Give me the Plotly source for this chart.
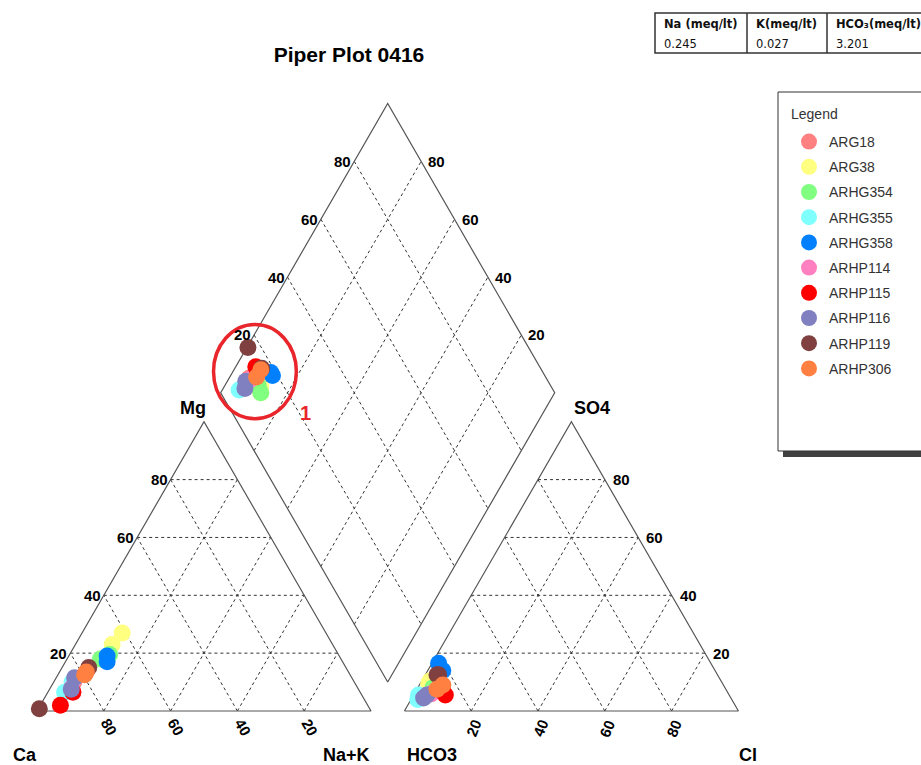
import numpy as np
import plotly.graph_objects as go

# ---- ion percentages (meq %) for each sample point ----
series_names = ["ARG18", "ARG38", "ARHG354", "ARHG355", "ARHG358",
                "ARHP114", "ARHP115", "ARHP116", "ARHP119", "ARHP306"]
series_colors = ["#FF8080", "#FFFF80", "#80FF80", "#80FFFF", "#0080FF",
                 "#FF80C0", "#FF0000", "#8080C0", "#804040", "#FF8040"]

point_series = ["ARG18", "ARG38", "ARG38", "ARHG354", "ARHG354", "ARHG355", "ARHG355",
                "ARHG358", "ARHG358", "ARHP114", "ARHP115", "ARHP115", "ARHP116", "ARHP116",
                "ARHP119", "ARHP119", "ARHP306", "ARHP306"]
ca_pct = [84.0, 61.0, 66.0, 72.0, 68.5, 84.5, 88.5, 69.5, 70.5, 85.5, 86.0, 92.0, 83.0, 86.0, 98.9, 77.0, 79.5, 78.5]
mg_pct = [10.0, 27.0, 23.0, 18.0, 19.5, 10.0, 6.5, 19.0, 17.0, 8.0, 6.5, 2.0, 11.5, 7.5, 0.8, 15.0, 12.5, 13.5]
nak_pct = [6.0, 12.0, 11.0, 10.0, 12.0, 5.5, 5.0, 11.5, 12.5, 6.5, 7.5, 6.0, 5.5, 6.5, 0.3, 8.0, 8.0, 8.0]
hco3_pct = [89.0, 88.0, 87.0, 87.5, 88.0, 93.0, 94.0, 81.5, 81.5, 89.0, 85.0, 85.0, 90.5, 92.0, 84.0, 83.5, 86.5, 84.0]
so4_pct = [6.0, 9.5, 10.5, 8.0, 7.0, 5.5, 4.0, 16.5, 14.0, 6.0, 5.5, 7.0, 5.5, 4.5, 12.5, 12.5, 7.5, 9.0]
cl_pct = [5.0, 2.5, 2.5, 4.5, 5.0, 1.5, 2.0, 2.0, 4.5, 5.0, 9.5, 8.0, 4.0, 3.5, 3.5, 4.0, 6.0, 7.0]

# summary table shown in the corner
table_headers = ["Na (meq/lt)", "K(meq/lt)", "HCO₃(meq/lt)"]
table_values = ["0.245", "0.027", "3.201"]

grid_levels = [20, 40, 60, 80]

# ---- Piper geometry (triangle side = 100 units) ----
S = np.sqrt(3) / 2
GAP = 10
OFF = 100 + GAP


def cation_xy(mg, nak):
    return nak + mg / 2, mg * S


def anion_xy(so4, cl):
    return OFF + cl + so4 / 2, so4 * S


def diamond_xy(nak, anion_sum):
    return (OFF + anion_sum + nak) / 2, (OFF + anion_sum - nak) * S


FONT = "Liberation Sans, Arial, sans-serif"
fig = go.Figure()

# dashed grid lines
gx, gy = [], []


def seg(p, q):
    gx.extend([p[0], q[0], None])
    gy.extend([p[1], q[1], None])


for v in grid_levels:
    # cation triangle
    seg(cation_xy(v, 0), cation_xy(v, 100 - v))
    seg(cation_xy(0, v), cation_xy(100 - v, v))
    seg(cation_xy(0, 100 - v), cation_xy(100 - v, 0))
    # anion triangle
    seg(anion_xy(v, 0), anion_xy(v, 100 - v))
    seg(anion_xy(0, v), anion_xy(100 - v, v))
    seg(anion_xy(0, 100 - v), anion_xy(100 - v, 0))
    # diamond
    seg(diamond_xy(v, 0), diamond_xy(v, 100))
    seg(diamond_xy(0, v), diamond_xy(100, v))

fig.add_trace(go.Scatter(x=gx, y=gy, mode="lines", hoverinfo="skip", showlegend=False,
                         line=dict(color="#333333", width=1, dash="3px,3px")))

# outlines
ox, oy = [], []
for poly in [
    [cation_xy(0, 0), cation_xy(0, 100), cation_xy(100, 0), cation_xy(0, 0)],
    [anion_xy(0, 0), anion_xy(0, 100), anion_xy(100, 0), anion_xy(0, 0)],
    [diamond_xy(100, 0), diamond_xy(0, 0), diamond_xy(0, 100), diamond_xy(100, 100), diamond_xy(100, 0)],
]:
    for p in poly:
        ox.append(p[0])
        oy.append(p[1])
    ox.append(None)
    oy.append(None)
fig.add_trace(go.Scatter(x=ox, y=oy, mode="lines", hoverinfo="skip", showlegend=False,
                         line=dict(color="#555555", width=1.2)))

# samples: one trace per series with its cation, anion and diamond positions
for name, color in zip(series_names, series_colors):
    xs, ys = [], []
    for i, s in enumerate(point_series):
        if s != name:
            continue
        tot_c = ca_pct[i] + mg_pct[i] + nak_pct[i]
        tot_a = hco3_pct[i] + so4_pct[i] + cl_pct[i]
        mg = 100 * mg_pct[i] / tot_c
        nak = 100 * nak_pct[i] / tot_c
        so4 = 100 * so4_pct[i] / tot_a
        cl = 100 * cl_pct[i] / tot_a
        for p in (cation_xy(mg, nak), anion_xy(so4, cl), diamond_xy(nak, so4 + cl)):
            xs.append(p[0])
            ys.append(p[1])
    fig.add_trace(go.Scatter(x=xs, y=ys, mode="markers", name=name,
                             legendgroup=name,
                             marker=dict(color=color, size=17, line=dict(width=0))))

ann = []


def label(x, y, text, **kw):
    d = dict(x=x, y=y, text=text, showarrow=False, xref="x", yref="y",
             font=dict(family=FONT, size=15, color="black"))
    d.update(kw)
    ann.append(d)


for v in grid_levels:
    t = f"<b>{v}</b>"
    x, y = cation_xy(v, 0)
    label(x, y, t, xanchor="right", yanchor="middle", xshift=-1)
    label(100 - v, 0, t, xanchor="center", yanchor="middle", textangle=60, xshift=6, yshift=-16)
    label(OFF + v, 0, t, xanchor="center", yanchor="middle", textangle=-68, xshift=2, yshift=-17)
    x, y = anion_xy(v, 100 - v)
    label(x, y, t, xanchor="left", yanchor="middle", xshift=6)
    x, y = diamond_xy(0, v)
    label(x, y, t, xanchor="right", yanchor="middle", xshift=-1)
    x, y = diamond_xy(100 - v, 100)
    label(x, y, t, xanchor="left", yanchor="middle", xshift=5)

corner_font = dict(family=FONT, size=18, color="black")
label(50, 100 * S, "<b>Mg</b>", font=corner_font, xshift=-11, yshift=14)
label(OFF + 50, 100 * S, "<b>SO4</b>", font=corner_font, xshift=21, yshift=14)
label(0, 0, "<b>Ca</b>", font=corner_font, xshift=-12, yshift=-44)
label(100, 0, "<b>Na+K</b>", font=corner_font, xshift=-25, yshift=-44)
label(OFF, 0, "<b>HCO3</b>", font=corner_font, xshift=28, yshift=-44)
label(OFF + 100, 0, "<b>Cl</b>", font=corner_font, xshift=10, yshift=-44)

# highlighted cluster
cx, cy = diamond_xy(7, 14)
label(cx, cy, "<b>1</b>", font=dict(family=FONT, size=20, color="#E8262C"), xshift=50, yshift=-40)

W, H = 921, 765


def px(x):
    return x / W


def py(y):
    return 1 - y / H


ecx, ecy = cx - 0.25, cy + 0.3
shapes = [
    dict(type="circle", xref="x", yref="y", layer="above",
         x0=ecx - 12.4, x1=ecx + 12.4, y0=ecy - 14.1, y1=ecy + 14.1,
         line=dict(color="#E8262C", width=3.5)),
    # legend frame with drop shadow
    dict(type="rect", xref="paper", yref="paper", layer="below",
         x0=px(783), x1=px(935), y0=py(457), y1=py(97),
         fillcolor="#404040", line=dict(width=0)),
    dict(type="rect", xref="paper", yref="paper", layer="below",
         x0=px(778), x1=px(930), y0=py(451), y1=py(92),
         fillcolor="white", line=dict(color="#333333", width=1)),
    # table frame
    dict(type="rect", xref="paper", yref="paper", layer="above",
         x0=px(655), x1=px(935), y0=py(53), y1=py(13),
         line=dict(color="#333333", width=1.5)),
]
for xd in (747, 827):
    shapes.append(dict(type="line", xref="paper", yref="paper", layer="above",
                       x0=px(xd), x1=px(xd), y0=py(53), y1=py(13),
                       line=dict(color="#333333", width=1.5)))

tfont = "DejaVu Sans, Verdana, sans-serif"
for xl, h, v in zip((662, 754, 834), table_headers, table_values):
    ann.append(dict(x=px(xl), y=py(24), xref="paper", yref="paper", text=f"<b>{h}</b>",
                    showarrow=False, xanchor="left", yanchor="middle",
                    font=dict(family=tfont, size=11.5, color="#111111")))
    ann.append(dict(x=px(xl), y=py(44), xref="paper", yref="paper", text=v,
                    showarrow=False, xanchor="left", yanchor="middle",
                    font=dict(family=tfont, size=11.5, color="#111111")))

# legend heading
ann.append(dict(x=px(789), y=py(114), xref="paper", yref="paper", text="Legend",
                showarrow=False, xanchor="left", yanchor="middle",
                font=dict(family=FONT, size=14, color="#333333")))

fig.update_layout(
    width=W, height=H, autosize=False,
    margin=dict(l=0, r=0, t=0, b=0),
    paper_bgcolor="white", plot_bgcolor="white",
    title=dict(text="<b>Piper Plot 0416</b>", x=px(349), y=py(55),
               xanchor="center", yanchor="middle",
               font=dict(family=FONT, size=21, color="black")),
    xaxis=dict(range=[-37 / 3.34, (W - 37) / 3.34], visible=False, fixedrange=True),
    yaxis=dict(range=[-(H - 711) / 3.34, 711 / 3.34], visible=False, fixedrange=True),
    showlegend=True,
    legend=dict(x=px(789), y=py(126), xanchor="left", yanchor="top",
                bgcolor="rgba(0,0,0,0)", borderwidth=0,
                font=dict(family=FONT, size=14, color="#333333"),
                itemsizing="trace", traceorder="grouped", tracegroupgap=4),
    shapes=shapes,
    annotations=ann,
)

fig.write_html("out.html")
